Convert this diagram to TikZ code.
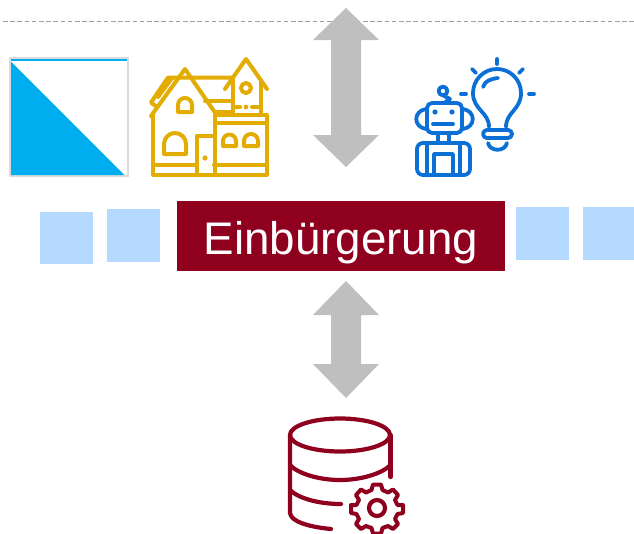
\documentclass[tikz,border=0pt]{standalone}
\usepackage{fontspec}
\setmainfont{Liberation Sans}
\definecolor{wine}{HTML}{8F001F}
\definecolor{gold}{HTML}{E3AC00}
\definecolor{iconblue}{HTML}{0B6FD6}
\definecolor{flagblue}{HTML}{00AEEF}
\definecolor{pale}{HTML}{B6DAFF}
\definecolor{arrowgray}{HTML}{BFBFBF}
\tikzset{
  square/.style={fill=pale,draw=none},
  dblarrow/.style={fill=arrowgray,draw=none},
  goldline/.style={draw=gold,line width=4pt,line join=round,line cap=round},
  blueline/.style={draw=iconblue,line width=3.8pt,line join=round,line cap=round},
  wineline/.style={draw=wine,line width=4.2pt,line join=round,line cap=round}
}
\begin{document}
\begin{tikzpicture}[x=1pt,y=-1pt]
\useasboundingbox (0,0) rectangle (634,533);
% dashed rule
\coordinate (ruleL) at (3,21.5);
\coordinate (ruleR) at (634,21.5);
\draw[draw=black!38,line width=1.7pt,dash pattern=on 4.6pt off 2.6pt] (ruleL) -- (ruleR);
% squares
\fill[square] (40,212) rectangle (93,264);
\fill[square] (107,209) rectangle (160,262);
\fill[square] (516,207) rectangle (569,260);
\fill[square] (583,207) rectangle (634,260);
% flag
\draw[draw=black!14,line width=1.8pt] (10,58) rectangle (128,176);
\fill[flagblue] (11,61.5) -- (124.5,175) -- (11,175) -- cycle;
\draw[flagblue,line width=2pt] (11,60) -- (127,60);
% title
\fill[wine] (177,201) rectangle (505,271);
\node[text=white,inner sep=0pt,font=\fontsize{45.7}{50}\selectfont,anchor=base] (title) at (341,254) {Einbürgerung};
% arrows
\fill[dblarrow] (346,8) -- (379,40) -- (361,40) -- (361,135) -- (379,135) -- (346,167) -- (313,135) -- (331,135) -- (331,40) -- (313,40) -- cycle;
\fill[dblarrow] (346,281) -- (379,315) -- (361,315) -- (361,364) -- (379,364) -- (346,398) -- (313,364) -- (331,364) -- (331,315) -- (313,315) -- cycle;
% house
\begin{scope}[goldline]
\draw (153,115) -- (153,175) -- (267,175) -- (267,115) -- (216,115);
\draw (151,116) -- (185,69) -- (216,114);
\draw (153,165) -- (197,165) (214,165) -- (267,165);
\draw (215,115) -- (215,175);
\draw (216,123) -- (267,123);
\draw (197,175) -- (197,135.5) -- (215,135.5);
\draw (157,107) -- (151,102.5) -- (168,77.5) -- (233,77.5);
\draw (158,97) -- (172,78);
\draw (205,101) -- (231,101);
\draw (216,112) -- (231,112);
\draw (225,89) -- (246,59) -- (267,89);
\draw (233,80) -- (233,114);
\draw (261,80) -- (261,114);
\draw (246,88) circle (5);
\draw (236,107) -- (240,107) (252,107) -- (258,107);
\draw (164,154) -- (164,144) arc (180:360:11) -- (186,154) -- cycle;
\draw (178,112) -- (178,105) arc (180:360:7) -- (192,112) -- cycle;
\draw (223,146) -- (223,141) arc (180:360:6.5) -- (236,146) -- cycle;
\draw (244,146) -- (244,141) arc (180:360:7) -- (258,146) -- cycle;
\end{scope}
\fill[gold] (246,107) circle (2.4);
\fill[gold] (205,158) circle (2.6);
% robot
\begin{scope}[blueline]
\draw[rounded corners=5pt] (427,103) rectangle (462,133);
\draw (433,124) -- (453,124);
\draw (426,109) .. controls (413,111) and (413,127) .. (426,129);
\draw (463,109) .. controls (476,111) and (476,127) .. (463,129);
\draw (443,91) circle (4.4);
\draw (444,96) -- (450,99) -- (444,103);
\draw (438,134) -- (438,143);
\draw (449,134) -- (449,143);
\draw[rounded corners=6pt] (417,143) rectangle (470,175);
\draw (427,144) -- (427,175);
\draw (460,144) -- (460,175);
\draw (434,175) -- (434,154) -- (453,154) -- (453,175);
\end{scope}
\fill[iconblue] (435,112) circle (2.6);
\fill[iconblue] (452,112) circle (2.6);
% bulb
\begin{scope}[blueline]
\draw (489,127) .. controls (489,112) and (473,110) .. (473,93) arc (180:360:24) .. controls (521,110) and (506,112) .. (506,127);
\draw (487,130) -- (508,130) (487,138) -- (508,138);
\draw (487,130) arc (-90:-270:4) (508,130) arc (-90:90:4);
\draw (488,143) .. controls (490,152) and (505,152) .. (507,143);
\draw (483,87) .. controls (485,81) and (490,79) .. (498,78);
\draw (497,59) -- (497,64);
\draw (472,69) -- (476,73);
\draw (523,69) -- (519,73);
\draw (461,94) -- (466,94);
\draw (529,94) -- (534,94);
\end{scope}
% database
\begin{scope}[wineline]
\draw (340,435) ellipse (50 and 16.5);
\draw (290,435) -- (290,513) .. controls (291,522) and (310,527) .. (331,529);
\draw (390.5,435) -- (390.5,477);
\draw (290,465) .. controls (297,473) and (318,480) .. (340,480) .. controls (362,480) and (383,473) .. (390.5,465);
\draw (290,490) .. controls (298,498) and (318,504) .. (341,504);
\draw (377,508) circle (8);
\draw[line width=4pt] (373,484.5) -- (381,484.5) -- (382.5,490)
 -- (388,492.5) -- (393,489.5) -- (398,495) -- (395,500) -- (397.5,505) -- (403,505) -- (403,513) -- (397.5,514)
 -- (395,519) -- (398,524) -- (393,529) -- (388,526) -- (382.5,528) -- (381,533.5) -- (373,533.5) -- (371.5,528)
 -- (366,526) -- (361,529) -- (356,524) -- (359,519) -- (356.5,514) -- (351,513) -- (351,505) -- (356.5,505)
 -- (359,500) -- (356,495) -- (361,489.5) -- (366,492.5) -- (371.5,490) -- cycle;
\end{scope}
\end{tikzpicture}
\end{document}
